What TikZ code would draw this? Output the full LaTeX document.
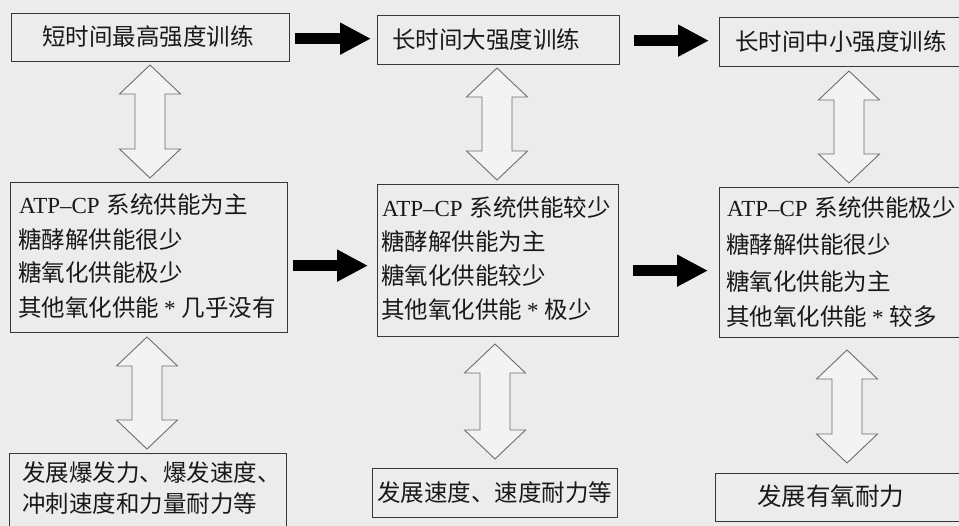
\documentclass[tikz,border=0pt]{standalone}
\usepackage{fontspec}
\setmainfont{Liberation Serif}
\newfontfamily\cjk{Noto Sans CJK SC}
\usetikzlibrary{arrows.meta,calc}
\definecolor{bgc}{RGB}{236,236,236}
\definecolor{boxc}{RGB}{55,55,55}
\definecolor{hollc}{RGB}{110,110,110}
\definecolor{hollfill}{RGB}{243,243,243}
\definecolor{txtc}{RGB}{25,25,25}
\newcommand\lat[1]{{\rmfamily\fontsize{23}{28}\selectfont #1}}
\newcommand\hollowarrow[2]{%
  \draw[hollow] (#1) -- ++(30.5,29) -- ++(-15.5,0) -- ($(#2)+(15,-29)$) -- ++(15.5,0)
    -- (#2) -- ++(-30.5,-29) -- ++(15.5,0) -- ($(#1)+(-15,29)$) -- ++(-15.5,0) -- cycle;}
\begin{document}
\begin{tikzpicture}[x=1pt,y=-1pt,
  box/.style={draw=boxc,line width=1.3pt,inner sep=0pt,anchor=north west},
  txt/.style={anchor=base west,inner sep=0pt,text=txtc,font=\cjk\fontsize{23.5}{28}\selectfont},
  blk/.style={line width=11pt,black,-{Triangle[width=30pt,length=31pt]}},
  hollow/.style={draw=hollc,fill=hollfill,line width=0.9pt,line join=miter}]
\useasboundingbox (0,0) rectangle (959,526);
\clip (0,0) rectangle (959,526);
\fill[bgc] (0,0) rectangle (959,526);

% boxes
\node[box,minimum width=278pt,minimum height=48pt] (a1) at (11,13) {};
\node[box,minimum width=242pt,minimum height=49pt] (b1) at (377,15) {};
\node[box,minimum width=260pt,minimum height=49pt] (c1) at (719,17) {};
\node[box,minimum width=277pt,minimum height=150pt] (a2) at (10,182) {};
\node[box,minimum width=241pt,minimum height=152pt] (b2) at (377,184) {};
\node[box,minimum width=260pt,minimum height=150pt] (c2) at (719,187) {};
\node[box,minimum width=277pt,minimum height=100pt] (a3) at (9,453) {};
\node[box,minimum width=245pt,minimum height=49pt] (b3) at (372,468) {};
\node[box,minimum width=260pt,minimum height=48pt] (c3) at (715,473) {};

% texts
\node[txt] (ta1) at (42,46) {短时间最高强度训练};
\node[txt] (tb1) at (392,49) {长时间大强度训练};
\node[txt] (tc1) at (735,51) {长时间中小强度训练};

\node[txt] (ta21) at (19,214) {\lat{ATP–CP}\hspace{7pt}系统供能为主};
\node[txt] (ta22) at (18,249) {糖酵解供能很少};
\node[txt] (ta23) at (18,282) {糖氧化供能极少};
\node[txt] (ta24) at (18,317) {其他氧化供能\hspace{5pt}\lat{*}\hspace{6pt}几乎没有};

\node[txt] (tb21) at (382,217) {\lat{ATP–CP}\hspace{7pt}系统供能较少};
\node[txt] (tb22) at (381,251) {糖酵解供能为主};
\node[txt] (tb23) at (381,285) {糖氧化供能较少};
\node[txt] (tb24) at (381,319) {其他氧化供能\hspace{5pt}\lat{*}\hspace{6pt}极少};

\node[txt] (tc21) at (727,217) {\lat{ATP–CP}\hspace{7pt}系统供能极少};
\node[txt] (tc22) at (726,254) {糖酵解供能很少};
\node[txt] (tc23) at (726,291) {糖氧化供能为主};
\node[txt] (tc24) at (726,326) {其他氧化供能\hspace{5pt}\lat{*}\hspace{6pt}较多};

\node[txt] (ta31) at (22,482) {发展爆发力、爆发速度、};
\node[txt] (ta32) at (22,512) {冲刺速度和力量耐力等};
\node[txt] (tb3) at (377,501) {发展速度、速度耐力等};
\node[txt,font=\cjk\fontsize{24.5}{28}\selectfont] (tc3) at (757,506) {发展有氧耐力};

% black arrows
\coordinate (p1) at ($(a1.east)+(0,1)$);
\coordinate (p2) at ($(b1.east)+(0,0.5)$);
\coordinate (p3) at ($(a2.east)+(0,8)$);
\coordinate (p4) at ($(b2.east)+(0,10)$);
\draw[blk,shorten <=5pt,shorten >=6pt] (p1) -- (p1 -| b1.west);
\draw[blk,shorten <=14pt,shorten >=10pt] (p2) -- (p2 -| c1.west);
\draw[blk,shorten <=5pt,shorten >=9pt] (p3) -- (p3 -| b2.west);
\draw[blk,shorten <=14pt,shorten >=11pt] (p4) -- (p4 -| c2.west);

% hollow double arrows
\coordinate (h1t) at (150,65);  \coordinate (h1b) at (150,178);
\coordinate (h2t) at (147,337); \coordinate (h2b) at (147,449);
\coordinate (h3t) at (497,68);  \coordinate (h3b) at (497,180);
\coordinate (h4t) at (495,344); \coordinate (h4b) at (495,459);
\coordinate (h5t) at (849,71);  \coordinate (h5b) at (849,183);
\coordinate (h6t) at (847,350); \coordinate (h6b) at (847,463);
\hollowarrow{h1t}{h1b}
\hollowarrow{h2t}{h2b}
\hollowarrow{h3t}{h3b}
\hollowarrow{h4t}{h4b}
\hollowarrow{h5t}{h5b}
\hollowarrow{h6t}{h6b}
\end{tikzpicture}
\end{document}
